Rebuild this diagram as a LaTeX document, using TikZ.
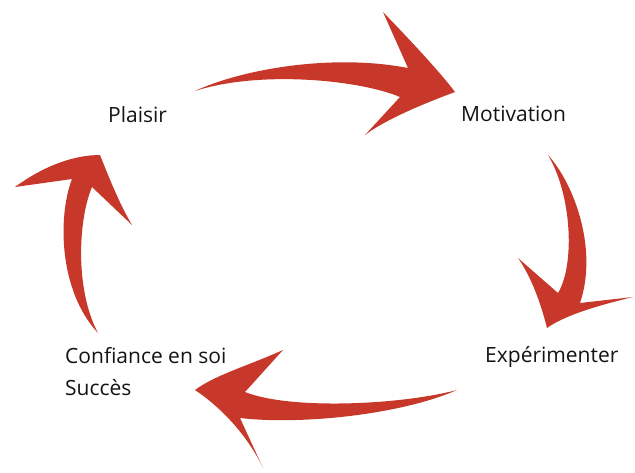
\documentclass[tikz,border=0pt]{standalone}
\usepackage{fontspec}
\setmainfont{Open Sans}
\definecolor{arrowred}{RGB}{200,56,42}
\definecolor{textgray}{RGB}{20,20,20}
\begin{document}
\begin{tikzpicture}[x=1pt,y=-1pt,
  bigarrow/.style={fill=arrowred,draw=none},
  label/.style={font=\fontsize{21}{32}\selectfont,text=textgray,inner sep=0pt,anchor=base west}]
\useasboundingbox[fill=white] (0,0) rectangle (635,472);
% labels
\node[label] (plaisir) at (108,122) {Plaisir};
\node[label] (motivation) at (461,121) {Motivation};
\node[label] (experimenter) at (485,362) {Expérimenter};
\node[label] (confiance) at (65,363) {Confiance en soi};
\node[label] (succes) at (65,395) {Succès};
% arrow Plaisir -> Motivation
\fill[bigarrow] (195,91) .. controls (240,70) and (330,53) .. (408,68)
  -- (383,12) .. controls (410,40) and (440,72) .. (455,92)
  .. controls (420,105) and (385,120) .. (365,135)
  -- (400,97) .. controls (360,80) and (260,70) .. (195,91) -- cycle;
% arrow Motivation -> Experimenter
\fill[bigarrow] (548,155) .. controls (575,185) and (598,250) .. (580,303)
  -- (633,297) .. controls (600,305) and (565,315) .. (547,328)
  .. controls (540,300) and (530,275) .. (518,258)
  -- (558,293) .. controls (575,265) and (572,195) .. (548,155) -- cycle;
% arrow Experimenter -> Confiance
\fill[bigarrow] (457,390) .. controls (400,405) and (290,410) .. (245,392)
  -- (283,350) .. controls (250,365) and (215,375) .. (195,390)
  .. controls (225,410) and (250,440) .. (263,468)
  -- (240,418) .. controls (300,425) and (400,415) .. (457,390) -- cycle;
% arrow Confiance -> Plaisir
\fill[bigarrow] (98,333) .. controls (58,290) and (58,215) .. (72,179)
  -- (15,187) .. controls (45,165) and (75,155) .. (100,155)
  .. controls (110,180) and (120,205) .. (132,225)
  -- (92,187) .. controls (78,220) and (75,290) .. (98,333) -- cycle;
\end{tikzpicture}
\end{document}
